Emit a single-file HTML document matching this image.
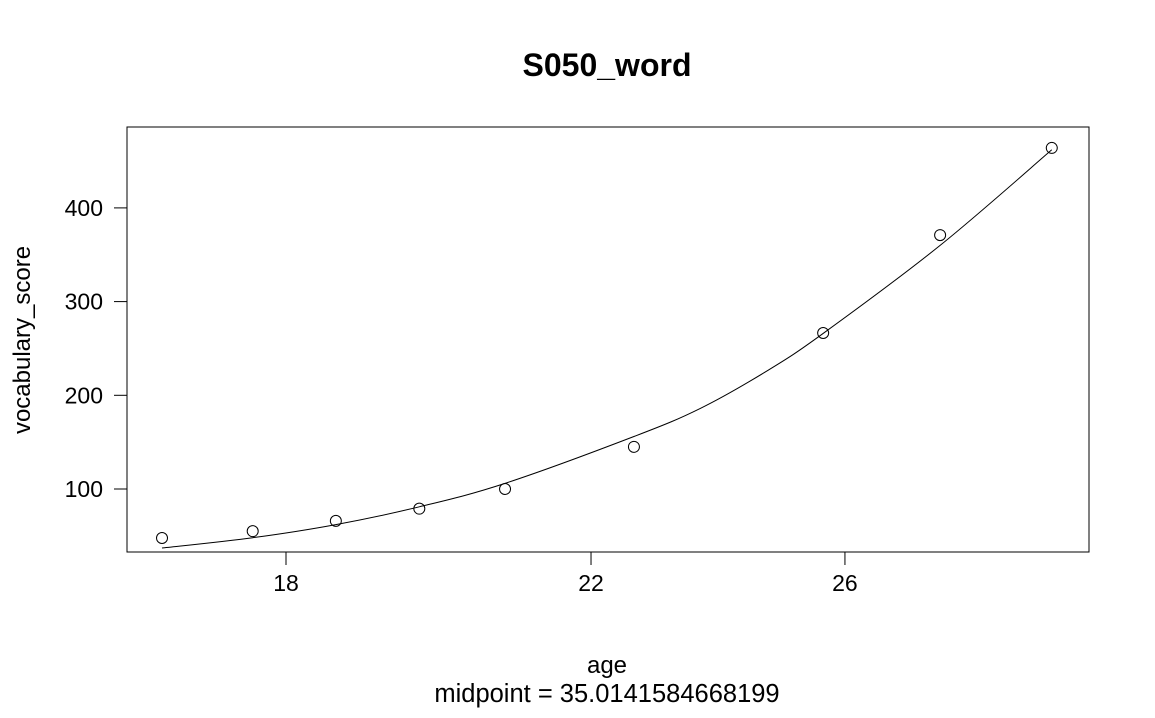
<!DOCTYPE html>
<html><head><meta charset="utf-8"><style>
body{margin:0;background:#fff}
svg{font-family:"Liberation Sans",Arial,sans-serif}
</style></head><body>
<svg width="1155" height="713">
<rect width="1155" height="713" fill="#fff"/>
<text x="607" y="76" font-size="32" font-weight="bold" text-anchor="middle">S050_word</text>
<rect x="127" y="127" width="962" height="425" fill="none" stroke="#000" stroke-width="1"/>
<g id="xaxis"></g>
<g id="yaxis"></g>
<path id="curve" fill="none" stroke="#000" stroke-width="1"/>
<g id="pts"></g>
<text x="607" y="673" font-size="24" text-anchor="middle">age</text>
<text x="607" y="702" font-size="25.5" text-anchor="middle">midpoint = 35.0141584668199</text>
<text transform="translate(30,340) rotate(-90)" font-size="24" text-anchor="middle">vocabulary_score</text>
</svg>
<script>
const ages=[16.59,17.61,18.60,19.65,20.79,22.63,25.63,27.68,29.79];
const scores=[47.7,55,66,79,100,145,266.5,371,464];
const fitAges=[16.59,17.61,18.60,19.65,20.79,22.63,23.64,24.70,25.63,27.68,29.79];
const fitValues=[37,48,62,81,106,156,186,226,266,360,462];
const xTicks=[18,22,26];
const yTicks=[100,200,300,400];
const NS="http://www.w3.org/2000/svg";
function sx(a){return 286+1520*(Math.log(a)-Math.log(18));}
function sy(v){return 489-0.937*(v-100);}
function mk(t,at){const e=document.createElementNS(NS,t);for(const k in at)e.setAttribute(k,at[k]);return e;}
const xa=document.getElementById('xaxis'),ya=document.getElementById('yaxis');
xa.appendChild(mk('line',{x1:sx(xTicks[0]),x2:sx(xTicks[xTicks.length-1]),y1:552,y2:552,stroke:'#000'}));
xTicks.forEach(t=>{
 const l=mk('line',{x1:sx(t),x2:sx(t),y1:552,y2:565,stroke:'#000'});
 
 
 xa.appendChild(l);
 const tx=mk('text',{x:sx(t),y:591,'font-size':23,'text-anchor':'middle'});tx.textContent=t;
 
 
 xa.appendChild(tx);
});
ya.appendChild(mk('line',{x1:127,x2:127,y1:sy(yTicks[0]),y2:sy(yTicks[yTicks.length-1]),stroke:'#000'}));
yTicks.forEach(t=>{
 const l=mk('line',{x1:114,x2:127,y1:sy(t),y2:sy(t),stroke:'#000'});
 
 
 ya.appendChild(l);
 const tx=mk('text',{x:103,y:sy(t)+8,'font-size':23,'text-anchor':'end'});tx.textContent=t;
 
 
 ya.appendChild(tx);
});
const P=fitAges.map((a,i)=>[sx(a),sy(fitValues[i])]);
let d='M'+P[0][0]+','+P[0][1];
for(let i=0;i<P.length-1;i++){
 const p0=P[Math.max(0,i-1)],p1=P[i],p2=P[i+1],p3=P[Math.min(P.length-1,i+2)];
 const c1=[p1[0]+(p2[0]-p0[0])/6,p1[1]+(p2[1]-p0[1])/6];
 const c2=[p2[0]-(p3[0]-p1[0])/6,p2[1]-(p3[1]-p1[1])/6];
 d+=' C'+c1+' '+c2+' '+p2;
}
document.getElementById('curve').setAttribute('d',d);
const g=document.getElementById('pts');
ages.forEach((a,i)=>{
 const c=mk('circle',{cx:sx(a),cy:sy(scores[i]),r:5.5,fill:'none',stroke:'#000'});
 
 
 g.appendChild(c);
});
</script>
</body></html>
